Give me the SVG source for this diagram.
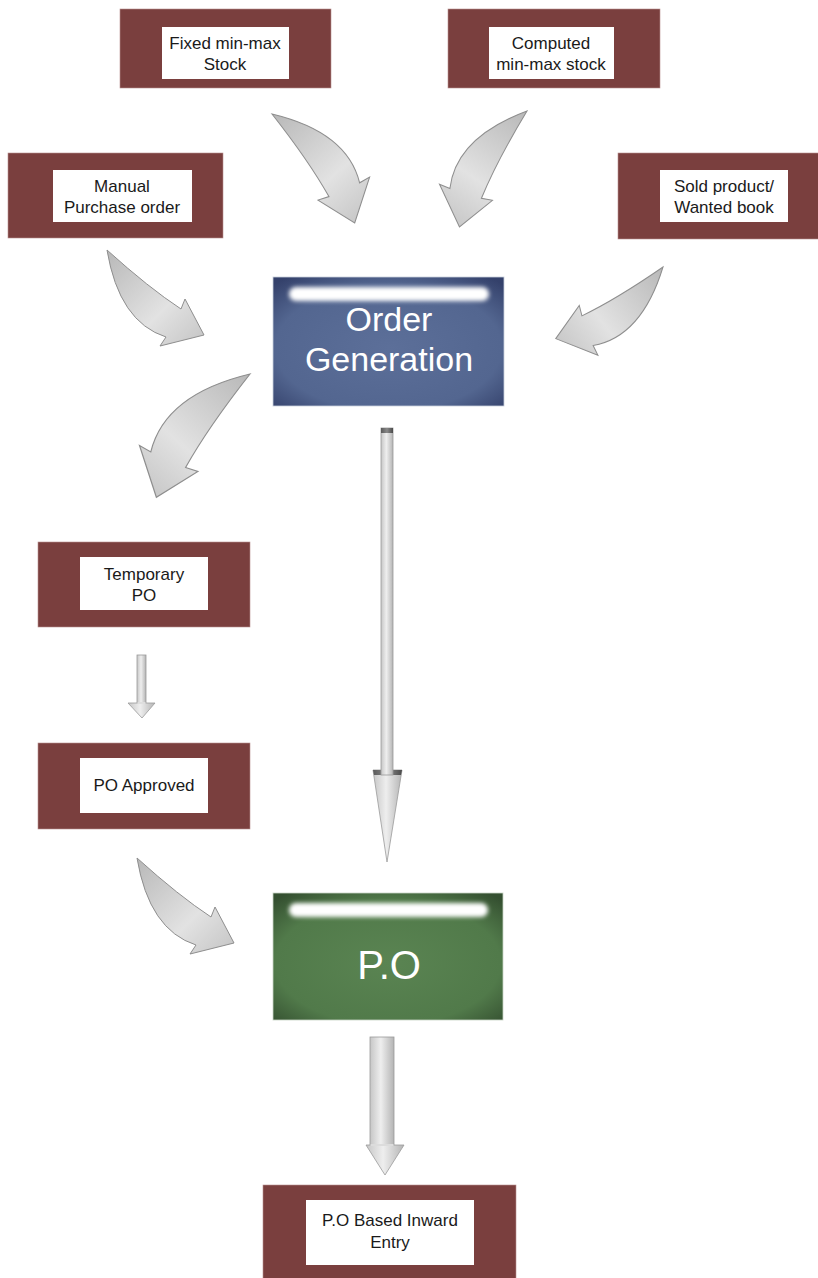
<svg xmlns="http://www.w3.org/2000/svg" width="818" height="1278" viewBox="0 0 818 1278">
<style>
.mar{fill:#7a3f3e;stroke:#b89090;stroke-width:0.6}
.wht{fill:#ffffff}
.t{font-family:"Liberation Sans",Arial,sans-serif;font-size:17px;fill:#1a1a1a;text-anchor:middle}
.big{font-family:"Liberation Sans",Arial,sans-serif;fill:#ffffff;text-anchor:middle}
.ca{fill:url(#cg);stroke:#8e8e8e;stroke-width:1}
.sa{fill:url(#sg);stroke:#9a9a9a;stroke-width:0.8}
.dk{fill:url(#dg)}
.hl{fill:#ffffff;filter:url(#blur)}
</style>
<defs>
<linearGradient id="cg" x1="0" y1="0" x2="1" y2="1">
<stop offset="0" stop-color="#b8b8b8"/>
<stop offset="0.6" stop-color="#e2e2e2"/>
<stop offset="1" stop-color="#c4c4c4"/>
</linearGradient>
<linearGradient id="sg" x1="0" y1="0" x2="1" y2="0">
<stop offset="0" stop-color="#c6c6c6"/>
<stop offset="0.45" stop-color="#eeeeee"/>
<stop offset="1" stop-color="#b4b4b4"/>
</linearGradient>
<linearGradient id="dg" x1="0" y1="0" x2="1" y2="0">
<stop offset="0" stop-color="#5a5a5a"/>
<stop offset="0.5" stop-color="#8a8a8a"/>
<stop offset="1" stop-color="#4a4a4a"/>
</linearGradient>
<radialGradient id="bg" cx="0.5" cy="0.55" r="0.7">
<stop offset="0" stop-color="#5c6f99"/>
<stop offset="0.7" stop-color="#536690"/>
<stop offset="1" stop-color="#34416b"/>
</radialGradient>
<radialGradient id="gg" cx="0.5" cy="0.55" r="0.7">
<stop offset="0" stop-color="#5a8452"/>
<stop offset="0.7" stop-color="#517a4a"/>
<stop offset="1" stop-color="#344f30"/>
</radialGradient>
<filter id="blur" x="-10%" y="-80%" width="120%" height="260%">
<feGaussianBlur stdDeviation="2"/>
</filter>
<path id="carrow" d="M0,0 Q12,72 59,87 L53,96 L97,85 L78,49 L74,59 Q42,38 0,0 Z"/>
</defs>

<g id="connectors">
<use href="#carrow" class="ca" transform="translate(272,114) rotate(4) matrix(0,1.06,1.06,0,0,0)"/>
<use href="#carrow" class="ca" transform="translate(527,111) rotate(79) scale(1.04)"/>
<use href="#carrow" class="ca" transform="translate(107,250)"/>
<use href="#carrow" class="ca" transform="translate(663,267) rotate(7.5) scale(-1,1)"/>
<use href="#carrow" class="ca" transform="translate(250,374) rotate(86) scale(1.2)"/>
<use href="#carrow" class="ca" transform="translate(137,858)"/>
<!-- long straight arrow -->
<g id="arrow-long">
<polygon class="sa" points="373,770 402,770 387,862"/>
<polygon class="dk" points="373,770 402,770 401,775 374,775"/>
<rect class="sa" x="381" y="428" width="12" height="347"/>
<rect class="dk" x="381" y="428" width="12" height="5"/>
</g>
<!-- temp to approved -->
<g id="arrow-small">
<rect class="sa" x="137" y="655" width="9" height="50"/>
<polygon class="sa" points="128,703 155,703 142,718"/>
<rect x="137.5" y="702" width="8" height="2" fill="#dedede"/>
</g>
<!-- P.O to inward -->
<g id="arrow-inward">
<rect class="sa" x="370" y="1037" width="24" height="110"/>
<polygon class="sa" points="366,1145 404,1145 385,1175"/>
<rect x="370.5" y="1144" width="23" height="2" fill="#dcdcdc"/>
</g>
</g>

<g id="node-fixed">
<rect class="mar" x="120" y="9" width="211" height="79"/>
<rect class="wht" x="162" y="27" width="127" height="52"/>
<text class="t" x="225" y="49">Fixed min-max</text>
<text class="t" x="225" y="70">Stock</text>
</g>
<g id="node-computed">
<rect class="mar" x="448" y="9" width="212" height="79"/>
<rect class="wht" x="489" y="27" width="125" height="52"/>
<text class="t" x="551" y="49">Computed</text>
<text class="t" x="551" y="70">min-max stock</text>
</g>
<g id="node-manual">
<rect class="mar" x="8" y="153" width="215" height="85"/>
<rect class="wht" x="53" y="170" width="139" height="52"/>
<text class="t" x="122" y="192">Manual</text>
<text class="t" x="122" y="213">Purchase order</text>
</g>
<g id="node-sold">
<rect class="mar" x="618" y="153" width="201" height="86"/>
<rect class="wht" x="660" y="170" width="128" height="52"/>
<text class="t" x="724" y="192">Sold product/</text>
<text class="t" x="724" y="213">Wanted book</text>
</g>
<g id="node-order-generation">
<rect x="273" y="277" width="231" height="129" fill="url(#bg)" stroke="#c9cfdc" stroke-width="0.8"/>
<rect class="hl" x="289" y="287" width="200" height="14" rx="7"/>
<text class="big" x="389" y="331" font-size="34">Order</text>
<text class="big" x="389" y="371" font-size="34">Generation</text>
</g>
<g id="node-temp-po">
<rect class="mar" x="38" y="542" width="212" height="85"/>
<rect class="wht" x="80" y="557" width="128" height="53"/>
<text class="t" x="144" y="580">Temporary</text>
<text class="t" x="144" y="601">PO</text>
</g>
<g id="node-po-approved">
<rect class="mar" x="38" y="743" width="212" height="86"/>
<rect class="wht" x="80" y="758" width="128" height="55"/>
<text class="t" x="144" y="791">PO Approved</text>
</g>
<g id="node-po">
<rect x="273" y="893" width="230" height="127" fill="url(#gg)" stroke="#c9d4c6" stroke-width="0.8"/>
<rect class="hl" x="289" y="903" width="199" height="14" rx="7"/>
<text class="big" x="389" y="979" font-size="40">P.O</text>
</g>
<g id="node-inward">
<rect class="mar" x="263" y="1185" width="253" height="94"/>
<rect class="wht" x="306" y="1200" width="168" height="65"/>
<text class="t" x="390" y="1226">P.O Based Inward</text>
<text class="t" x="390" y="1248">Entry</text>
</g>
</svg>
